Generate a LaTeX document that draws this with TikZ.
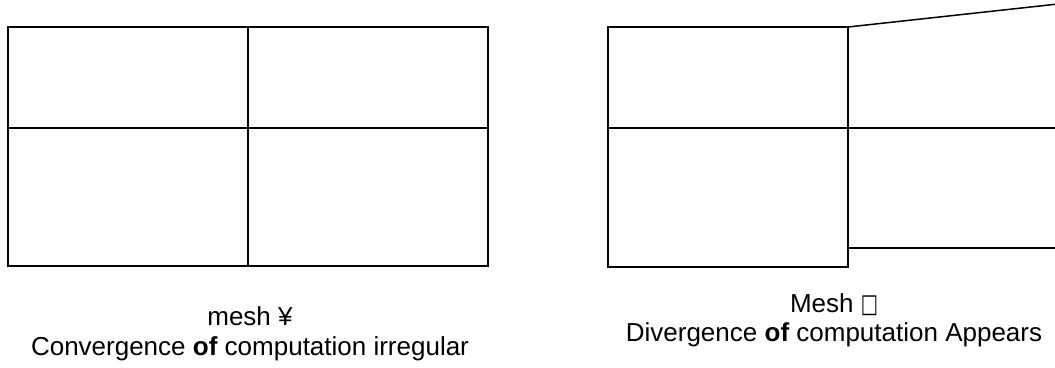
\documentclass[tikz,border=0pt]{standalone}
\usepackage{fontspec}
\setmainfont{Liberation Sans}
\newfontfamily\boxfont{DejaVu Sans}
\usetikzlibrary{positioning}
\tikzstyle{meshline} = [line width=1.5pt, draw=black]
\tikzstyle{caption} = [align=center, font=\fontsize{26}{30}\selectfont, inner sep=0pt, anchor=base]

\begin{document}
\begin{tikzpicture}[x=1pt, y=-1pt]
\useasboundingbox (0,0) rectangle (1055,367);
% left mesh
\draw [meshline] (8,27) rectangle (488,266);
\draw [meshline] (248,27) -- (248,266);
\draw [meshline] (8,128) -- (488,128);
% right mesh
\draw [meshline] (608,27) rectangle (848,267);
\draw [meshline] (848,27) -- (1058,4);
\draw [meshline] (608,128) -- (1058,128);
\draw [meshline] (848,248) -- (1058,248);
% captions
\node (M1) [caption] at (250,325) {mesh ¥};
\node (M2) [caption] at (250,355) {Convergence \textbf{of} computation irregular};
\node (N1) [caption] at (834,312) {Mesh {\boxfont\scalebox{0.7}[1.0]{□}}};
\node (N2) [caption] at (834,341) {Divergence \textbf{of} computation Appears};
\end{tikzpicture}
\end{document}
